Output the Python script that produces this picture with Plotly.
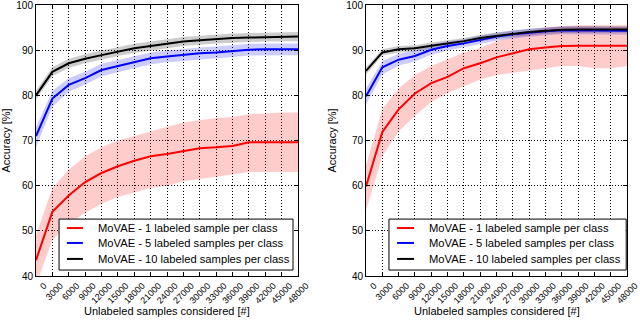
"""Two-panel accuracy vs. unlabeled samples chart (MoVAE), matplotlib-classic look."""

import plotly.graph_objects as go
from plotly.subplots import make_subplots

samples = [0, 3000, 6000, 9000, 12000, 15000, 18000, 21000, 24000,
           27000, 30000, 33000, 36000, 39000, 42000, 45000, 48000]
tick_labels = [str(s) for s in samples]

# left panel
left_1 = [43.5, 54.2, 57.8, 60.8, 62.8, 64.3, 65.5, 66.5, 67.0,
          67.7, 68.3, 68.5, 68.8, 69.6, 69.6, 69.6, 69.6]
left_1_lo = [38.0, 48.0, 51.5, 54.0, 56.0, 57.5, 58.5, 59.5, 60.0,
             61.0, 61.5, 62.0, 62.5, 63.0, 63.0, 63.0, 63.0]
left_1_hi = [49.0, 59.5, 63.5, 66.5, 68.5, 70.0, 71.0, 72.0, 73.0,
             74.0, 74.5, 75.0, 75.2, 75.8, 76.0, 76.2, 76.2]
left_5 = [71.0, 79.3, 82.3, 83.8, 85.6, 86.5, 87.3, 88.2, 88.6,
          89.0, 89.3, 89.5, 89.8, 90.1, 90.2, 90.2, 90.2]
left_5_lo = [68.5, 77.5, 80.8, 82.4, 84.2, 85.2, 86.0, 86.9, 87.3,
             87.7, 88.0, 88.2, 88.5, 88.8, 88.9, 88.9, 88.9]
left_5_hi = [73.0, 81.0, 83.8, 85.2, 87.0, 87.8, 88.6, 89.5, 89.9,
             90.3, 90.6, 90.8, 91.1, 91.4, 91.5, 91.5, 91.5]
left_10 = [80.0, 85.2, 87.1, 88.1, 88.9, 89.7, 90.4, 90.9, 91.4,
           91.9, 92.2, 92.5, 92.7, 92.8, 92.9, 93.0, 93.0]
left_10_lo = [79.0, 84.2, 86.1, 87.1, 87.9, 88.7, 89.4, 89.9, 90.4,
              90.9, 91.2, 91.5, 91.7, 91.8, 91.9, 92.0, 92.0]
left_10_hi = [81.0, 86.2, 88.1, 89.1, 89.9, 90.7, 91.4, 91.9, 92.4,
              92.9, 93.2, 93.5, 93.7, 93.8, 93.9, 94.0, 94.0]

# right panel
right_1 = [59.8, 71.9, 76.9, 80.4, 82.7, 84.1, 86.0, 87.1, 88.4,
           89.3, 90.2, 90.6, 90.9, 91.0, 91.0, 90.9, 91.0]
right_1_lo = [54.5, 66.5, 72.0, 75.5, 78.5, 80.5, 82.0, 83.5, 84.5,
              85.0, 85.5, 86.0, 86.5, 86.5, 86.0, 86.0, 86.5]
right_1_hi = [64.5, 77.0, 81.5, 84.5, 86.5, 88.0, 89.5, 90.5, 92.0,
              93.0, 94.0, 95.0, 95.3, 95.5, 95.5, 95.5, 95.5]
right_5 = [79.8, 86.2, 87.9, 88.7, 90.1, 90.9, 91.5, 92.3, 93.0,
           93.5, 93.9, 94.2, 94.4, 94.4, 94.4, 94.3, 94.3]
right_5_lo = [78.0, 84.6, 86.6, 87.5, 89.0, 89.9, 90.6, 91.4, 92.1,
              92.6, 93.0, 93.3, 93.5, 93.5, 93.5, 93.4, 93.4]
right_5_hi = [81.5, 87.6, 89.2, 89.9, 91.2, 91.9, 92.4, 93.2, 93.9,
              94.4, 94.8, 95.1, 95.3, 95.3, 95.3, 95.2, 95.2]
right_10 = [85.4, 89.5, 90.2, 90.4, 91.0, 91.5, 92.0, 92.7, 93.2,
            93.6, 94.0, 94.3, 94.5, 94.6, 94.6, 94.6, 94.6]
right_10_lo = [84.6, 88.8, 89.5, 89.7, 90.3, 90.8, 91.3, 92.0, 92.5,
               92.9, 93.3, 93.6, 93.8, 93.9, 93.9, 93.9, 93.9]
right_10_hi = [86.2, 90.2, 90.9, 91.1, 91.7, 92.2, 92.7, 93.4, 93.9,
               94.3, 94.7, 95.0, 95.2, 95.3, 95.3, 95.3, 95.3]

names = ["MoVAE - 1 labeled sample per class",
         "MoVAE - 5 labeled samples per class",
         "MoVAE - 10 labeled samples per class"]
line_colors = ["#ff0000", "#0000ff", "#000000"]
fill_colors = ["rgba(255,0,0,0.2)", "rgba(0,0,255,0.2)", "rgba(0,0,0,0.2)"]

FONT = "Liberation Sans, Arial, Helvetica, sans-serif"

panels = [
    (1, [(left_1, left_1_lo, left_1_hi),
         (left_5, left_5_lo, left_5_hi),
         (left_10, left_10_lo, left_10_hi)]),
    (2, [(right_1, right_1_lo, right_1_hi),
         (right_5, right_5_lo, right_5_hi),
         (right_10, right_10_lo, right_10_hi)]),
]

fig = make_subplots(rows=1, cols=2)

for col, series in panels:
    # bands first so the lines sit on top
    for (mean, lo, hi), fc in zip(series, fill_colors):
        fig.add_trace(
            go.Scatter(
                x=samples + samples[::-1],
                y=hi + lo[::-1],
                fill="toself",
                fillcolor=fc,
                line=dict(width=0),
                mode="lines",
                hoverinfo="skip",
                showlegend=False,
            ),
            row=1, col=col,
        )
    for (mean, lo, hi), name, lc in zip(series, names, line_colors):
        fig.add_trace(
            go.Scatter(
                x=samples,
                y=mean,
                mode="lines",
                name=name,
                line=dict(color=lc, width=2),
                showlegend=False,
            ),
            row=1, col=col,
        )

axis_common = dict(
    showline=True, linecolor="black", linewidth=1, mirror="allticks",
    ticks="inside", ticklen=4, tickcolor="black",
    showgrid=True, gridcolor="black", gridwidth=0.5, griddash="1px,2px",
    zeroline=False, automargin=False, ticklabeloverflow="allow",
)

for col in (1, 2):
    # matplotlib centres rotated labels on the tick; nudge plotly's to match
    fig.update_xaxes(
        range=[0, 48000], tickvals=samples, ticktext=tick_labels,
        tickangle=-45, ticklabelshift=8, ticklabelstandoff=0,
        tickfont=dict(size=9, color="black"),
        row=1, col=col, **axis_common,
    )
    fig.update_yaxes(
        range=[40, 100], tickvals=[40, 50, 60, 70, 80, 90, 100],
        tickfont=dict(size=10, color="black"),
        title=dict(text="Accuracy [%]", font=dict(size=11), standoff=7),
        row=1, col=col, **axis_common,
    )

fig.update_xaxes(domain=[0, 0.4433], row=1, col=1)
fig.update_xaxes(domain=[0.5584, 1.0], row=1, col=2)

# x titles sit tight under the rotated tick labels, as in the original
for xref, yref in (("x domain", "y domain"), ("x2 domain", "y2 domain")):
    fig.add_annotation(text="Unlabeled samples considered [#]", xref=xref, yref=yref,
                       x=0.5, y=-0.128, xanchor="center", yanchor="middle",
                       showarrow=False, font=dict(size=11, color="black"))

# matplotlib-style legend boxes, placed in each panel's axes-domain units
legend_boxes = [
    # (xref, yref, box x0, box x1, line x0, line x1, text x)
    ("x domain", "y domain", 0.088, 0.981, 0.118, 0.179, 0.229),
    ("x2 domain", "y2 domain", 0.088, 0.997, 0.119, 0.184, 0.234),
]
row_y = [0.177, 0.122, 0.063]
for xref, yref, bx0, bx1, lx0, lx1, tx in legend_boxes:
    fig.add_shape(type="rect", xref=xref, yref=yref, x0=bx0, x1=bx1,
                  y0=0.022, y1=0.210, line=dict(color="black", width=1),
                  fillcolor="white", layer="above")
    for name, lc, ry in zip(names, line_colors, row_y):
        fig.add_shape(type="line", xref=xref, yref=yref, x0=lx0, x1=lx1,
                      y0=ry, y1=ry, line=dict(color=lc, width=2), layer="above")
        fig.add_annotation(text=name, xref=xref, yref=yref, x=tx, y=ry,
                           xanchor="left", yanchor="middle", showarrow=False,
                           font=dict(size=11.2, color="black"))

fig.update_layout(
    width=640, height=325,
    margin=dict(l=36, r=13, t=5, b=49),
    paper_bgcolor="white", plot_bgcolor="white",
    font=dict(family=FONT, color="black"),
    showlegend=False,
)

# the page's default body margin would shift the 640x325 figure
fig.write_html("out.html", config={"displayModeBar": False},
               post_script="document.body.style.margin='0';")
